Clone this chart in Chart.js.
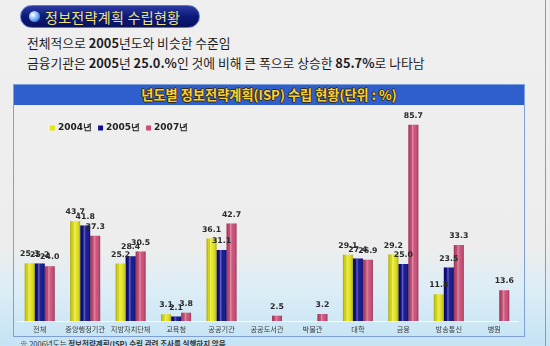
<!DOCTYPE html>
<html><head><meta charset="utf-8">
<script src="https://cdn.jsdelivr.net/npm/chart.js@4.4.1/dist/chart.umd.min.js"></script>
<style>
html,body{margin:0;padding:0;}
body{width:550px;height:346px;overflow:hidden;position:relative;font-family:"Noto Sans CJK KR","Noto Sans",sans-serif;
background:linear-gradient(to bottom,#efefef 0%,#ededed 72%,#dcedf7 84%,#c4e3f4 100%);}
#pill{position:absolute;left:20px;top:5px;width:180px;height:23px;border-radius:12px;
background:linear-gradient(to bottom,#2a3aa0 0%,#0c1a78 50%,#08125e 100%);border:1px solid #5a78d0;box-sizing:border-box;}
#ball{position:absolute;left:8px;top:5px;width:11px;height:11px;border-radius:50%;
background:radial-gradient(circle at 35% 35%,#ffffff 0%,#9cc8ff 35%,#2f6fd8 80%);}
#pill span{position:absolute;left:24px;top:1px;font-size:14px;color:#f2e27a;letter-spacing:0.3px;white-space:nowrap;}
.line{position:absolute;left:27px;font-size:12.8px;color:#1e1e1e;white-space:nowrap;}
.line b{font-weight:700;}
#box{position:absolute;left:13px;top:84px;width:512px;height:253px;border:1px solid #7f9fd8;box-sizing:border-box;}
#hdr{position:absolute;left:0;top:0;right:0;height:20px;background:#2f5fcc;text-align:center;
font-size:13.2px;font-weight:700;color:#f3d23a;line-height:20px;
text-shadow:-1px 0 #3a2a10,1px 0 #3a2a10,0 -1px #3a2a10,0 1px #3a2a10;}
#rb{position:absolute;left:545px;top:0;width:1px;height:346px;background:#9a9a9a;}
#note{position:absolute;left:20px;top:338px;font-size:7.5px;color:#333;white-space:nowrap;}
#c{position:absolute;left:0;top:0;}
</style></head>
<body>
<div id="pill"><div id="ball"></div><span>정보전략계획 수립현황</span></div>
<div class="line" style="top:33px">전체적으로 <b>2005</b>년도와 비슷한 수준임</div>
<div class="line" style="top:53px">금융기관은 <b>2005</b>년 <b>25.0.%</b>인 것에 비해 큰 폭으로 상승한 <b>85.7%</b>로 나타남</div>
<div id="box"><div id="hdr">년도별 정보전략계획(ISP) 수립 현황(단위 : %)</div></div>
<div id="rb"></div>
<div id="note">※ 2006년도는 <b>정보전략계획(ISP) 수립 관련 조사를 실행하지 않음</b></div>
<canvas id="c" width="550" height="346"></canvas>
<script>
const categories = ["전체","중앙행정기관","지방자치단체","교육청","공공기관","공공도서관","박물관","대학","금융","방송통신","병원"];
const seriesNames = ["2004년","2005년","2007년"];
const values2004 = [25.3,43.7,25.2,3.1,36.1,null,null,29.1,29.2,11.8,null];
const values2005 = [25.2,41.8,28.4,2.1,31.1,null,null,27.4,25.0,23.5,null];
const values2007 = [24.0,37.3,30.5,3.8,42.7,2.5,3.2,26.9,85.7,33.3,13.6];
const colors = ["#e4e414","#0c0c8e","#cc4a74"];

const shadePlugin = {
  id:'shade',
  afterDatasetsDraw(chart){
    const ctx = chart.ctx;
    chart.data.datasets.forEach((ds,di)=>{
      const meta = chart.getDatasetMeta(di);
      meta.data.forEach((el,i)=>{
        if(ds.data[i]==null) return;
        const p = el.getProps(['x','y','base','width'],true);
        const l = p.x - p.width/2, r = p.x + p.width/2;
        const g = ctx.createLinearGradient(l,0,r,0);
        g.addColorStop(0,'rgba(0,0,0,0.28)');
        g.addColorStop(0.2,'rgba(0,0,0,0.05)');
        g.addColorStop(0.4,'rgba(255,255,255,0.35)');
        g.addColorStop(0.6,'rgba(255,255,255,0.05)');
        g.addColorStop(1,'rgba(0,0,0,0.25)');
        ctx.save();
        ctx.fillStyle = g;
        ctx.fillRect(l,p.y,p.width,p.base-p.y);
        ctx.restore();
      });
    });
  },
  afterDraw(chart){
    const ctx = chart.ctx;
    ctx.save();
    ctx.font = 'bold 7.8px "DejaVu Sans"';
    ctx.fillStyle = '#2a2a2a';
    ctx.textAlign = 'center';
    ctx.textBaseline = 'bottom';
    chart.data.datasets.forEach((ds,di)=>{
      const meta = chart.getDatasetMeta(di);
      meta.data.forEach((el,i)=>{
        const v = ds.data[i];
        if(v==null) return;
        ctx.fillText(v.toFixed(1), el.x, el.y-5);
      });
    });
    // legend
    let x = 50; const y = 128;
    ctx.textAlign = 'left'; ctx.textBaseline = 'middle';
    ctx.font = 'bold 9px "DejaVu Sans"';
    chart.data.datasets.forEach((ds,di)=>{
      ctx.fillStyle = ds.backgroundColor;
      ctx.fillRect(x, y-2.5, 5, 5);
      ctx.fillStyle = '#222';
      ctx.fillText(ds.label, x+8, y);
      x += 8 + ctx.measureText(ds.label).width + 6;
    });
    ctx.restore();
  }
};

new Chart(document.getElementById('c'),{
  type:'bar',
  data:{
    labels:categories,
    datasets:[
      {label:seriesNames[0],data:values2004,backgroundColor:colors[0]},
      {label:seriesNames[1],data:values2005,backgroundColor:colors[1]},
      {label:seriesNames[2],data:values2007,backgroundColor:colors[2]}
    ]
  },
  options:{
    responsive:false,animation:false,
    layout:{padding:{top:115,left:17,right:33,bottom:8}},
    datasets:{bar:{barPercentage:1.0,categoryPercentage:0.66}},
    plugins:{legend:{display:false},tooltip:{enabled:false}},
    scales:{
      x:{grid:{display:false,drawTicks:false},border:{color:'rgba(255,255,255,0.95)',width:1},
         ticks:{font:{size:7.2,family:'"Noto Sans CJK KR"'},color:'#3a3a3a',padding:4,maxRotation:0,autoSkip:false}},
      y:{display:false,min:0,max:90}
    }
  },
  plugins:[shadePlugin]
});
</script>
</body></html>
